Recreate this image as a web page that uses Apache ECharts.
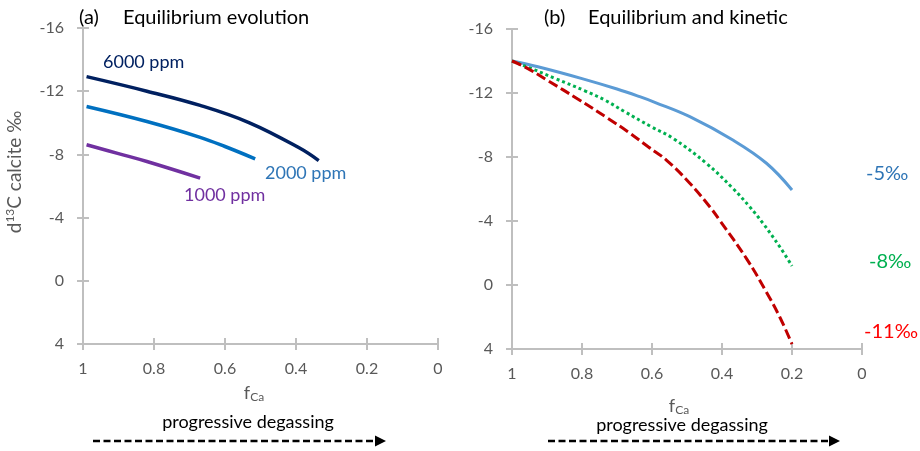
<!DOCTYPE html>
<html>
<head>
<meta charset="utf-8">
<script src="https://cdn.jsdelivr.net/npm/echarts@6/dist/echarts.min.js"></script>
<style>
html,body{margin:0;padding:0;background:#fff;}
#chart{width:920px;height:451px;}
</style>
</head>
<body>
<div id="chart"></div>
<script>
// ---- Panel (a): equilibrium evolution ----
const fCa6000 = [0.99, 0.82, 0.67, 0.531, 0.39, 0.336];
const d6000   = [-12.92, -12.0, -11.1, -10.0, -8.4, -7.61];
const fCa2000 = [0.99, 0.82, 0.67, 0.6, 0.515];
const d2000   = [-11.03, -10.08, -9.08, -8.5, -7.72];
const fCa1000 = [0.99, 0.9, 0.82, 0.67];
const d1000   = [-8.61, -8.05, -7.55, -6.5];

// ---- Panel (b): equilibrium and kinetic ----
const fCaB5  = [1, 0.926, 0.8, 0.7, 0.635, 0.592, 0.492, 0.369, 0.273, 0.2];
const dB5    = [-14, -13.64, -12.9, -12.25, -11.77, -11.42, -10.52, -9.06, -7.61, -5.94];
const fCaB8  = [1, 0.935, 0.878, 0.792, 0.735, 0.678, 0.602, 0.54, 0.445, 0.369, 0.321, 0.283, 0.235, 0.2];
const dB8    = [-14, -13.44, -12.92, -12.14, -11.56, -10.83, -9.89, -9.17, -7.61, -6.04, -4.89, -3.86, -2.39, -1.19];
const fCaB11 = [1, 0.964, 0.897, 0.811, 0.726, 0.669, 0.611, 0.559, 0.492, 0.435, 0.407, 0.33, 0.273, 0.235, 0.2];
const dB11   = [-14, -13.64, -12.77, -11.61, -10.42, -9.58, -8.64, -7.81, -6.36, -4.89, -4.06, -1.65, 0.45, 2.0, 3.69];

const seriesNamesA = ['6000 ppm', '2000 ppm', '1000 ppm'];
const seriesNamesB = ['-5‰', '-8‰', '-11‰'];
const panelTagA = '(a)', titleA = 'Equilibrium evolution';
const panelTagB = '(b)', titleB = 'Equilibrium and kinetic';
const xMin = 0, xMax = 1, xStep = 0.2;
const yMin = -16, yMax = 4, yStep = 4;

const pairs = (xs, ys) => xs.map((x, i) => [x, ys[i]]);

const FONT = 'Lato, "Open Sans", sans-serif';
const AXC = '#BFBFBF';
const LBL = '#595959';

function mkX(grid, main) {
  return {
    type: 'value', gridIndex: grid, position: 'bottom', inverse: true,
    min: xMin, max: xMax, interval: xStep,
    axisLine: { show: main, onZero: false, lineStyle: { color: AXC, width: 2 } },
    axisTick: { show: true, inside: !main, length: 6, lineStyle: { color: AXC, width: 2 } },
    axisLabel: { show: main, margin: 17, color: LBL, fontSize: 16, fontFamily: FONT },
    splitLine: { show: false }
  };
}
function mkY(grid, main) {
  return {
    type: 'value', gridIndex: grid, position: 'left', inverse: true,
    min: yMin, max: yMax, interval: yStep,
    axisLine: { show: main, onZero: false, lineStyle: { color: AXC, width: 2 } },
    axisTick: { show: true, inside: !main, length: 6, lineStyle: { color: AXC, width: 2 } },
    axisLabel: { show: main, margin: 19, color: LBL, fontSize: 16, fontFamily: FONT },
    splitLine: { show: false }
  };
}

function line(name, data, xi, yi, color, width, type) {
  return {
    name, type: 'line', xAxisIndex: xi, yAxisIndex: yi, data,
    smooth: 0.4, showSymbol: false, symbol: 'none', silent: true,
    lineStyle: { color, width, type: type || 'solid', cap: 'butt' }
  };
}

function txt(x, y, text, color, size, align, extra) {
  return Object.assign({
    type: 'text', x, y, silent: true,
    style: { text, fill: color, font: size + 'px ' + FONT, align: align || 'left', verticalAlign: 'middle' }
  }, extra || {});
}

function arrow(x1, x2, y) {
  return [
    { type: 'line', silent: true, shape: { x1, y1: y, x2: x2 - 10, y2: y },
      style: { stroke: '#000', lineWidth: 2.5, lineDash: [7, 3.5] } },
    { type: 'polygon', silent: true, shape: { points: [[x2 - 11, y - 5.5], [x2, y], [x2 - 11, y + 5.5]] },
      style: { fill: '#000' } }
  ];
}

function subText(x, y, base, sub) {
  return {
    type: 'text', x, y, silent: true,
    style: {
      text: '{n|' + base + '}{s|' + sub + '}', align: 'center', verticalAlign: 'middle',
      rich: {
        n: { fontSize: 18, fontFamily: FONT, fill: LBL, lineHeight: 22 },
        s: { fontSize: 12, fontFamily: FONT, fill: LBL, lineHeight: 22, padding: [9, 0, 0, 0] }
      }
    }
  };
}

const chart = echarts.init(document.getElementById('chart'), null, { renderer: 'canvas' });
chart.setOption({
  backgroundColor: '#fff',
  animation: false,
  grid: [
    { left: 83, top: 28, width: 355, height: 316 },
    { left: 512, top: 29, width: 350, height: 320 }
  ],
  xAxis: [mkX(0, true), mkX(1, true), mkX(0, false), mkX(1, false)],
  yAxis: [mkY(0, true), mkY(1, true), mkY(0, false), mkY(1, false)],
  series: [
    line(seriesNamesA[0], pairs(fCa6000, d6000), 0, 0, '#002060', 3.5),
    line(seriesNamesA[1], pairs(fCa2000, d2000), 0, 0, '#0070C0', 3.5),
    line(seriesNamesA[2], pairs(fCa1000, d1000), 0, 0, '#7030A0', 3.5),
    line(seriesNamesB[0], pairs(fCaB5, dB5), 1, 1, '#5B9BD5', 3),
    line(seriesNamesB[1], pairs(fCaB8, dB8), 1, 1, '#00B050', 3, [3, 3]),
    line(seriesNamesB[2], pairs(fCaB11, dB11), 1, 1, '#C00000', 3, [10, 4])
  ],
  graphic: [
    txt(79, 18, panelTagA, '#000', 20),
    txt(123, 18, titleA, '#000', 20),
    txt(544, 18, panelTagB, '#000', 20),
    txt(588, 18, titleB, '#000', 20),
    txt(103, 62, seriesNamesA[0], '#002060', 18),
    txt(265, 173, seriesNamesA[1], '#2E75B6', 18),
    txt(184, 195, seriesNamesA[2], '#7030A0', 18),
    txt(866, 174, seriesNamesB[0], '#2E75B6', 20),
    txt(869, 262, seriesNamesB[1], '#00B050', 20),
    txt(864, 332, seriesNamesB[2], '#FF0000', 20),
    {
      type: 'text', x: 15, y: 172, rotation: Math.PI / 2, silent: true,
      style: {
        text: '{n|d}{s|13}{n|C calcite ‰}', align: 'center', verticalAlign: 'middle',
        rich: {
          n: { fontSize: 19, fontFamily: FONT, fill: LBL, lineHeight: 22 },
          s: { fontSize: 12, fontFamily: FONT, fill: LBL, lineHeight: 22, verticalAlign: 'top', padding: [0, 0, 8, 0] }
        }
      }
    },
    subText(254, 393, 'f', 'Ca'),
    subText(679, 406, 'f', 'Ca'),
    txt(248, 422, 'progressive degassing', '#000', 18, 'center'),
    txt(682, 425, 'progressive degassing', '#000', 18, 'center'),
    ...arrow(93, 386, 441),
    ...arrow(548, 840, 441)
  ]
});
</script>
</body>
</html>
